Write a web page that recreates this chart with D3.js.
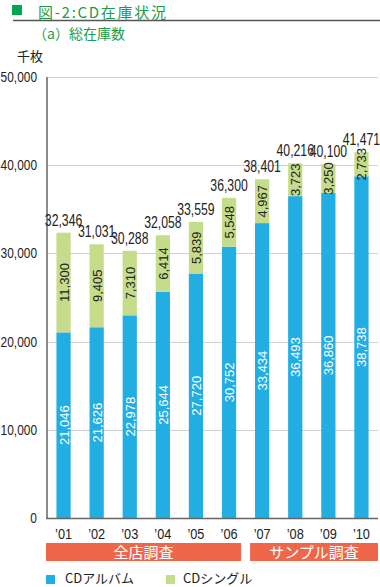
<!DOCTYPE html>
<html><head><meta charset="utf-8">
<script src="https://cdn.jsdelivr.net/npm/d3@7"></script>
<style>
html,body{margin:0;padding:0;background:#fff;}
svg{display:block;}
</style></head>
<body>
<svg id="c" width="380" height="587"></svg>
<script>
const years = ["’01","’02","’03","’04","’05","’06","’07","’08","’09","’10"];
const albums = [21046,21626,22978,25644,27720,30752,33434,36493,36860,38738];
const singles = [11300,9405,7310,6414,5839,5548,4967,3723,3250,2733];
const totals = [32346,31031,30288,32058,33559,36300,38401,40216,40100,41471];
const yTicks = [0,10000,20000,30000,40000,50000];
const seriesNames = ["CDアルバム","CDシングル"];
const colors = ["#22ade3","#c5dd8a"];
const groups = [{label:"全店調査", from:0, to:5},{label:"サンプル調査", from:6, to:9}];

const svg = d3.select("#c");
const NUM = "'Liberation Sans', Arial, sans-serif";
const JP = "'Noto Sans CJK JP', sans-serif";
const fmt = d3.format(",");

const y = d3.scaleLinear().domain([0,50000]).range([518,77]);
const x = d3.scaleBand().domain(years).range([47,378]).paddingInner(0.57).paddingOuter(0.285);

// title
svg.append("rect").attr("x",12).attr("y",5).attr("width",10).attr("height",10).attr("fill","#00a650");
svg.append("text").attr("x",38).attr("y",17.5).attr("font-family",JP).attr("font-size",15)
  .attr("letter-spacing",1.7).attr("fill","#1a9c4a").text("図-2:CD在庫状況");
svg.append("line").attr("x1",13).attr("x2",380).attr("y1",20.5).attr("y2",20.5)
  .attr("stroke","#555").attr("stroke-width",1.5);
svg.append("text").attr("x",33).attr("y",39).attr("font-family",JP).attr("font-size",14)
  .attr("fill","#1a9c4a").text("（a）総在庫数");
svg.append("text").attr("x",17).attr("y",61).attr("font-family",JP).attr("font-size",13)
  .attr("fill","#222").text("千枚");

// gridlines
svg.append("g").selectAll("line").data(yTicks.filter(d=>d>0)).join("line")
  .attr("x1",47).attr("x2",378).attr("y1",d=>Math.round(y(d))+0.5).attr("y2",d=>Math.round(y(d))+0.5)
  .attr("stroke","#d0d0d0").attr("stroke-width",1);

// y axis labels
svg.append("g").selectAll("text").data(yTicks).join("text")
  .attr("transform",d=>`translate(37,${y(d)+5}) scale(0.85,1)`)
  .attr("text-anchor","end").attr("font-family",NUM).attr("font-size",14).attr("fill","#222")
  .text(d=>fmt(d));

// stacked bars
const stackData = years.map((yr,i)=>({yr, a:albums[i], s:singles[i]}));
const stack = d3.stack().keys(["a","s"])(stackData);
stack.forEach((layer,k)=>{
  svg.append("g").selectAll("rect").data(layer).join("rect")
    .attr("x",d=>x(d.data.yr)).attr("width",x.bandwidth())
    .attr("y",d=>y(d[1])).attr("height",d=>y(d[0])-y(d[1]))
    .attr("fill",colors[k]);
});

// axes lines
svg.append("line").attr("x1",47).attr("x2",47).attr("y1",77).attr("y2",518.5)
  .attr("stroke","#666").attr("stroke-width",1.5);
svg.append("line").attr("x1",46).attr("x2",378).attr("y1",518.5).attr("y2",518.5)
  .attr("stroke","#666").attr("stroke-width",1.5);

// inside labels
stack.forEach((layer,k)=>{
  svg.append("g").selectAll("text").data(layer).join("text")
    .attr("transform",d=>`translate(${x(d.data.yr)+x.bandwidth()/2+0.5},${(y(d[0])+y(d[1]))/2}) rotate(-90)`)
    .attr("text-anchor","middle").attr("dominant-baseline","central")
    .attr("font-family",NUM).attr("font-size",13)
    .attr("fill",k===0?"#fff":"#222")
    .text(d=>fmt(d[1]-d[0]));
});

// total labels
svg.append("g").selectAll("text").data(stackData).join("text")
  .attr("transform",(d,i)=>`translate(${x(d.yr)+x.bandwidth()/2},${y(d.a+d.s)-7}) scale(0.72,1)`)
  .attr("text-anchor","middle").attr("font-family",NUM).attr("font-size",17).attr("fill","#222")
  .text((d,i)=>fmt(totals[i]));

// x labels
svg.append("g").selectAll("text").data(years).join("text")
  .attr("transform",d=>`translate(${x(d)+x.bandwidth()/2},539) scale(0.85,1)`)
  .attr("text-anchor","middle").attr("font-family",NUM).attr("font-size",15).attr("fill","#222")
  .text(d=>d);

// group bands
const [r0, r1] = x.range();
groups.forEach((g,gi)=>{
  const left = g.from === 0 ? r0 - 1 : x(years[g.from]) - x.step()*x.paddingInner()/2 + 4.5;
  const right = g.to === years.length-1 ? r1 : x(years[g.to]) + x.bandwidth() + x.step()*x.paddingInner()/2 - 4.5;
  svg.append("rect").attr("x",left).attr("y",543).attr("width",right-left).attr("height",18).attr("fill","#ef674b");
  svg.append("text").attr("x",(left+right)/2).attr("y",558).attr("text-anchor","middle")
    .attr("font-family",JP).attr("font-size",15).attr("fill","#fff").text(g.label);
});

// legend
const lg = [{x:46,tx:65},{x:166,tx:183}];
seriesNames.forEach((n,i)=>{
  svg.append("rect").attr("x",lg[i].x).attr("y",575).attr("width",9).attr("height",9).attr("fill",colors[i]);
  svg.append("text").attr("x",lg[i].tx).attr("y",583).attr("font-family",JP).attr("font-size",13)
    .attr("fill","#222").text(n);
});
</script>
</body></html>
